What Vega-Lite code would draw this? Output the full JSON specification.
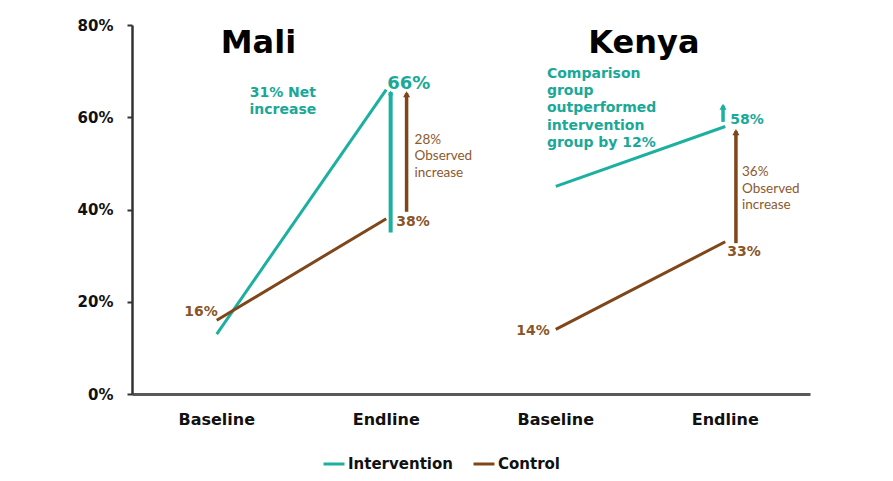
{
  "$schema": "https://vega.github.io/schema/vega-lite/v6.json",
  "width": 678,
  "height": 369,
  "autosize": {"type": "none"},
  "padding": {"left": 132, "top": 25, "right": 83, "bottom": 87},
  "background": "white",
  "config": {
    "view": {"stroke": null},
    "font": "DejaVu Sans",
    "legend": {"labelFont": "DejaVu Sans", "labelFontWeight": "bold", "labelFontSize": 15, "labelColor": "#111"}
  },
  "layer": [
    {
      "data": {"values": [
        {"country": "Mali", "stage": "Mali Baseline", "group": "Intervention", "value": 0.13},
        {"country": "Mali", "stage": "Mali Endline", "group": "Intervention", "value": 0.66},
        {"country": "Mali", "stage": "Mali Baseline", "group": "Control", "value": 0.16},
        {"country": "Mali", "stage": "Mali Endline", "group": "Control", "value": 0.38},
        {"country": "Kenya", "stage": "Kenya Baseline", "group": "Intervention", "value": 0.45},
        {"country": "Kenya", "stage": "Kenya Endline", "group": "Intervention", "value": 0.58},
        {"country": "Kenya", "stage": "Kenya Baseline", "group": "Control", "value": 0.14},
        {"country": "Kenya", "stage": "Kenya Endline", "group": "Control", "value": 0.33}
      ]},
      "mark": {"type": "line", "strokeWidth": 3},
      "encoding": {
        "x": {
          "field": "stage", "type": "nominal", "bandPosition": 0.5,
          "scale": {"type": "band", "domain": ["Mali Baseline", "Mali Endline", "Kenya Baseline", "Kenya Endline"], "paddingInner": 0, "paddingOuter": 0},
          "axis": {"title": null, "ticks": false, "labelExpr": "split(datum.label, ' ')[1]", "labelFont": "DejaVu Sans", "labelFontWeight": "bold", "labelFontSize": 16, "labelColor": "#111", "labelPadding": 17, "domainColor": "#595959", "domainWidth": 3, "grid": false, "labelAngle": 0}
        },
        "y": {
          "field": "value", "type": "quantitative",
          "scale": {"domain": [0, 0.8], "nice": false, "zero": true},
          "axis": {"title": null, "values": [0, 0.2, 0.4, 0.6, 0.8], "format": ".0%", "grid": false, "labelFont": "DejaVu Sans", "labelFontWeight": "bold", "labelFontSize": 15, "labelColor": "#111", "labelPadding": 14, "tickSize": 5, "tickWidth": 2, "tickColor": "#333", "domainColor": "#333", "domainWidth": 2.5}
        },
        "color": {
          "field": "group", "type": "nominal",
          "scale": {"domain": ["Intervention", "Control"], "range": ["#1cb0a0", "#7f4619"]},
          "legend": {"title": null, "orient": "none", "legendX": 190, "legendY": 427, "direction": "horizontal", "symbolType": "stroke", "symbolSize": 440, "symbolStrokeWidth": 3, "labelOffset": 2, "columnPadding": 14}
        },
        "detail": {"field": "country"}
      }
    },
    {
      "data": {"values": [{"stage": "Mali Endline", "from": 0.35, "to": 0.655}]},
      "layer": [
        {"mark": {"type": "rule", "color": "#1cb0a0", "strokeWidth": 4}, "encoding": {"x": {"field": "stage", "type": "nominal", "bandPosition": 0.526}, "y": {"field": "from", "type": "quantitative"}, "y2": {"field": "to"}}},
        {"mark": {"type": "point", "shape": "triangle-up", "filled": true, "color": "#1cb0a0", "size": 30, "opacity": 1, "yOffset": 1}, "encoding": {"x": {"field": "stage", "type": "nominal", "bandPosition": 0.526}, "y": {"field": "to", "type": "quantitative"}}}
      ]
    },
    {
      "data": {"values": [{"stage": "Mali Endline", "from": 0.395, "to": 0.652}]},
      "layer": [
        {"mark": {"type": "rule", "color": "#7f4619", "strokeWidth": 3.5}, "encoding": {"x": {"field": "stage", "type": "nominal", "bandPosition": 0.62}, "y": {"field": "from", "type": "quantitative"}, "y2": {"field": "to"}}},
        {"mark": {"type": "point", "shape": "triangle-up", "filled": true, "color": "#7f4619", "size": 50, "opacity": 1, "yOffset": 1}, "encoding": {"x": {"field": "stage", "type": "nominal", "bandPosition": 0.62}, "y": {"field": "to", "type": "quantitative"}}}
      ]
    },
    {
      "data": {"values": [{"stage": "Kenya Endline", "from": 0.59, "to": 0.625}]},
      "layer": [
        {"mark": {"type": "rule", "color": "#1cb0a0", "strokeWidth": 3.5}, "encoding": {"x": {"field": "stage", "type": "nominal", "bandPosition": 0.487}, "y": {"field": "from", "type": "quantitative"}, "y2": {"field": "to"}}},
        {"mark": {"type": "point", "shape": "triangle-up", "filled": true, "color": "#1cb0a0", "size": 50, "opacity": 1, "yOffset": 1}, "encoding": {"x": {"field": "stage", "type": "nominal", "bandPosition": 0.487}, "y": {"field": "to", "type": "quantitative"}}}
      ]
    },
    {
      "data": {"values": [{"stage": "Kenya Endline", "from": 0.327, "to": 0.57}]},
      "layer": [
        {"mark": {"type": "rule", "color": "#7f4619", "strokeWidth": 3.5}, "encoding": {"x": {"field": "stage", "type": "nominal", "bandPosition": 0.563}, "y": {"field": "from", "type": "quantitative"}, "y2": {"field": "to"}}},
        {"mark": {"type": "point", "shape": "triangle-up", "filled": true, "color": "#7f4619", "size": 50, "opacity": 1, "yOffset": 1}, "encoding": {"x": {"field": "stage", "type": "nominal", "bandPosition": 0.563}, "y": {"field": "to", "type": "quantitative"}}}
      ]
    },
    {
      "data": {"values": [{"stage": "Mali Baseline", "value": 0.16, "label": "16%"}]},
      "mark": {"type": "text", "align": "right", "baseline": "middle", "dx": 1, "dy": -8, "font": "DejaVu Sans", "fontWeight": "bold", "fontSize": 14, "color": "#8a5527"},
      "encoding": {"x": {"field": "stage", "type": "nominal", "bandPosition": 0.5}, "y": {"field": "value", "type": "quantitative"}, "text": {"field": "label"}}
    },
    {
      "data": {"values": [{"stage": "Mali Endline", "value": 0.66, "label": "66%"}]},
      "mark": {"type": "text", "align": "left", "baseline": "middle", "dx": 1, "dy": -6, "font": "DejaVu Sans", "fontWeight": "bold", "fontSize": 18, "color": "#1aa898"},
      "encoding": {"x": {"field": "stage", "type": "nominal", "bandPosition": 0.5}, "y": {"field": "value", "type": "quantitative"}, "text": {"field": "label"}}
    },
    {
      "data": {"values": [{"stage": "Mali Endline", "value": 0.38, "label": "38%"}]},
      "mark": {"type": "text", "align": "left", "baseline": "middle", "dx": 10, "dy": 3, "font": "DejaVu Sans", "fontWeight": "bold", "fontSize": 14, "color": "#8a5527"},
      "encoding": {"x": {"field": "stage", "type": "nominal", "bandPosition": 0.5}, "y": {"field": "value", "type": "quantitative"}, "text": {"field": "label"}}
    },
    {
      "data": {"values": [{"stage": "Kenya Baseline", "value": 0.14, "label": "14%"}]},
      "mark": {"type": "text", "align": "right", "baseline": "middle", "dx": -6, "dy": 2, "font": "DejaVu Sans", "fontWeight": "bold", "fontSize": 14, "color": "#8a5527"},
      "encoding": {"x": {"field": "stage", "type": "nominal", "bandPosition": 0.5}, "y": {"field": "value", "type": "quantitative"}, "text": {"field": "label"}}
    },
    {
      "data": {"values": [{"stage": "Kenya Endline", "value": 0.58, "label": "58%"}]},
      "mark": {"type": "text", "align": "left", "baseline": "middle", "dx": 5, "dy": -6, "font": "DejaVu Sans", "fontWeight": "bold", "fontSize": 14, "color": "#1aa898"},
      "encoding": {"x": {"field": "stage", "type": "nominal", "bandPosition": 0.5}, "y": {"field": "value", "type": "quantitative"}, "text": {"field": "label"}}
    },
    {
      "data": {"values": [{"stage": "Kenya Endline", "value": 0.33, "label": "33%"}]},
      "mark": {"type": "text", "align": "left", "baseline": "middle", "dx": 2, "dy": 10, "font": "DejaVu Sans", "fontWeight": "bold", "fontSize": 14, "color": "#8a5527"},
      "encoding": {"x": {"field": "stage", "type": "nominal", "bandPosition": 0.5}, "y": {"field": "value", "type": "quantitative"}, "text": {"field": "label"}}
    },
    {
      "data": {"values": [{"stage": "Mali Baseline", "label": "Mali"}]},
      "mark": {"type": "text", "align": "center", "baseline": "alphabetic", "font": "DejaVu Sans", "fontWeight": "bold", "fontSize": 32, "color": "#000"},
      "encoding": {"x": {"field": "stage", "type": "nominal", "bandPosition": 0.746}, "y": {"datum": 0.739, "type": "quantitative"}, "text": {"field": "label"}}
    },
    {
      "data": {"values": [{"stage": "Kenya Endline", "label": "Kenya"}]},
      "mark": {"type": "text", "align": "center", "baseline": "alphabetic", "font": "DejaVu Sans", "fontWeight": "bold", "fontSize": 32, "color": "#000"},
      "encoding": {"x": {"field": "stage", "type": "nominal", "bandPosition": 0.02}, "y": {"datum": 0.739, "type": "quantitative"}, "text": {"field": "label"}}
    },
    {
      "data": {"values": [{"stage": "Mali Baseline", "label": ["31% Net", "increase"]}]},
      "mark": {"type": "text", "align": "center", "baseline": "middle", "lineHeight": 17, "font": "DejaVu Sans", "fontWeight": "bold", "fontSize": 14, "color": "#1aa898"},
      "encoding": {"x": {"field": "stage", "type": "nominal", "bandPosition": 0.89}, "y": {"datum": 0.6526, "type": "quantitative"}, "text": {"field": "label"}}
    },
    {
      "data": {"values": [{"stage": "Kenya Baseline", "label": ["Comparison", "group", "outperformed", "intervention", "group by 12%"]}]},
      "mark": {"type": "text", "align": "left", "baseline": "middle", "lineHeight": 17.3, "font": "DejaVu Sans", "fontWeight": "bold", "fontSize": 14, "color": "#1aa898"},
      "encoding": {"x": {"field": "stage", "type": "nominal", "bandPosition": 0.448}, "y": {"datum": 0.694, "type": "quantitative"}, "text": {"field": "label"}}
    },
    {
      "data": {"values": [{"stage": "Mali Endline", "label": ["28%", "Observed", "increase"]}]},
      "mark": {"type": "text", "align": "left", "baseline": "middle", "lineHeight": 16.5, "font": "Lato", "fontWeight": "normal", "fontSize": 13.5, "color": "#8a5a2e"},
      "encoding": {"x": {"field": "stage", "type": "nominal", "bandPosition": 0.667}, "y": {"datum": 0.5507, "type": "quantitative"}, "text": {"field": "label"}}
    },
    {
      "data": {"values": [{"stage": "Kenya Endline", "label": ["36%", "Observed", "increase"]}]},
      "mark": {"type": "text", "align": "left", "baseline": "middle", "lineHeight": 16.5, "font": "Lato", "fontWeight": "normal", "fontSize": 13.5, "color": "#8a5a2e"},
      "encoding": {"x": {"field": "stage", "type": "nominal", "bandPosition": 0.599}, "y": {"datum": 0.4813, "type": "quantitative"}, "text": {"field": "label"}}
    }
  ]
}
